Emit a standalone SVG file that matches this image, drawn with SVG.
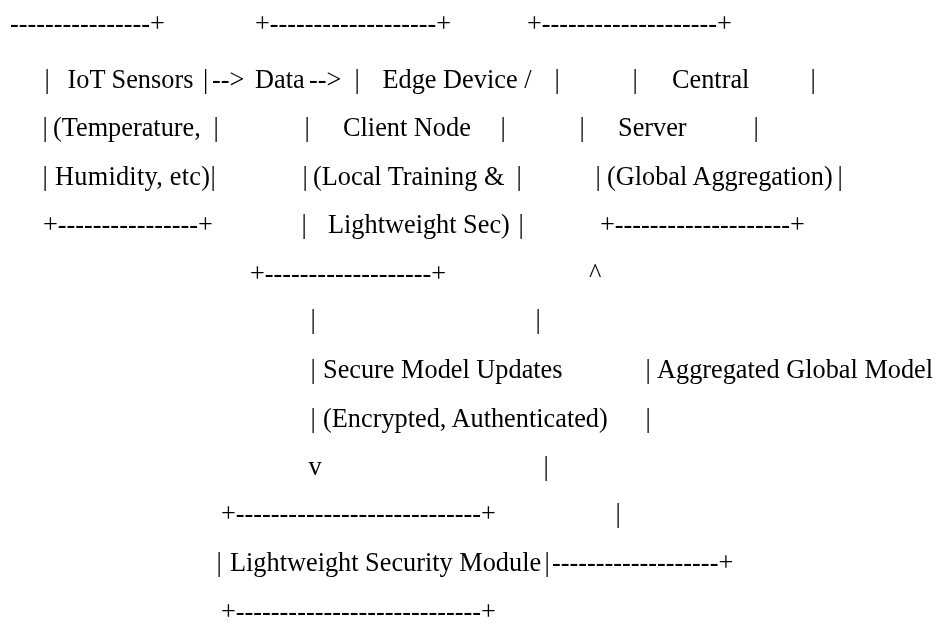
<svg xmlns="http://www.w3.org/2000/svg" width="936" height="642" viewBox="0 0 936 642">
  <style>
    text { font-family: "Liberation Serif", "Times New Roman", serif; font-size: 26.3px; fill: #000; white-space: pre; }
  </style>
  <defs>
    <!-- identity filter: draws the text through an offscreen layer (grey anti-aliasing) -->
    <filter id="flat" filterUnits="userSpaceOnUse" x="0" y="0" width="936" height="642">
      <feColorMatrix type="identity"/>
    </filter>
  </defs>
  <rect x="0" y="0" width="936" height="642" fill="#fff"/>

  <g filter="url(#flat)">
  <!-- IoT sensor box -->
  <g id="iot-sensors">
    <text x="10" y="32">----------------+</text>
    <text x="44.4" y="88">|</text>
    <text x="67.5" y="88">IoT Sensors</text>
    <text x="203" y="88">|</text>
    <text x="42.4" y="136.4">|</text>
    <text x="53" y="136.4">(Temperature,</text>
    <text x="213.4" y="136.4">|</text>
    <text x="42.4" y="184.8">|</text>
    <text x="55" y="184.8" textLength="155" lengthAdjust="spacing">Humidity, etc)</text>
    <text x="210.4" y="184.8">|</text>
    <text x="43" y="233.2">+----------------+</text>
  </g>

  <!-- Edge device / client node box -->
  <g id="edge-device">
    <text x="255" y="32">+-------------------+</text>
    <text x="354.4" y="88">|</text>
    <text x="382.5" y="88">Edge Device /</text>
    <text x="554.4" y="88">|</text>
    <text x="304.4" y="136.4">|</text>
    <text x="343" y="136.4">Client Node</text>
    <text x="500.4" y="136.4">|</text>
    <text x="302.4" y="184.8">|</text>
    <text x="313" y="184.8">(Local Training &amp;</text>
    <text x="516.4" y="184.8">|</text>
    <text x="301.4" y="233.2">|</text>
    <text x="328" y="233.2">Lightweight Sec)</text>
    <text x="518.4" y="233.2">|</text>
    <text x="250" y="281.6">+-------------------+</text>
  </g>

  <!-- Central server box -->
  <g id="central-server">
    <text x="527" y="32">+--------------------+</text>
    <text x="632.4" y="88">|</text>
    <text x="672" y="88">Central</text>
    <text x="810.4" y="88">|</text>
    <text x="579.4" y="136.4">|</text>
    <text x="618" y="136.4">Server</text>
    <text x="753.4" y="136.4">|</text>
    <text x="595.4" y="184.8">|</text>
    <text x="607" y="184.8">(Global Aggregation)</text>
    <text x="837.4" y="184.8">|</text>
    <text x="600" y="233.2">+--------------------+</text>
  </g>

  <!-- Lightweight security module box -->
  <g id="security-module">
    <text x="221" y="521.6">+----------------------------+</text>
    <text x="216.4" y="571">|</text>
    <text x="230" y="571">Lightweight Security Module</text>
    <text x="544.4" y="571">|</text>
    <text x="221" y="620.4">+----------------------------+</text>
  </g>

  <!-- Connectors and their labels -->
  <g id="connectors">
    <text x="212" y="88">--&gt;</text>
    <text x="255" y="88">Data</text>
    <text x="309" y="88">--&gt;</text>

    <text x="589" y="281.6">^</text>

    <text x="310.4" y="328">|</text>
    <text x="535.4" y="328">|</text>

    <text x="310.4" y="378.4">|</text>
    <text x="323" y="378.4">Secure Model Updates</text>
    <text x="645.4" y="378.4">|</text>
    <text x="657" y="378.4">Aggregated Global Model</text>

    <text x="310.4" y="426.8">|</text>
    <text x="323" y="426.8">(Encrypted, Authenticated)</text>
    <text x="645.4" y="426.8">|</text>

    <text x="308.5" y="475.2">v</text>
    <text x="543.4" y="475.2">|</text>

    <text x="615.4" y="521.6">|</text>

    <text x="552" y="571">-------------------+</text>
  </g>
  </g>
</svg>
